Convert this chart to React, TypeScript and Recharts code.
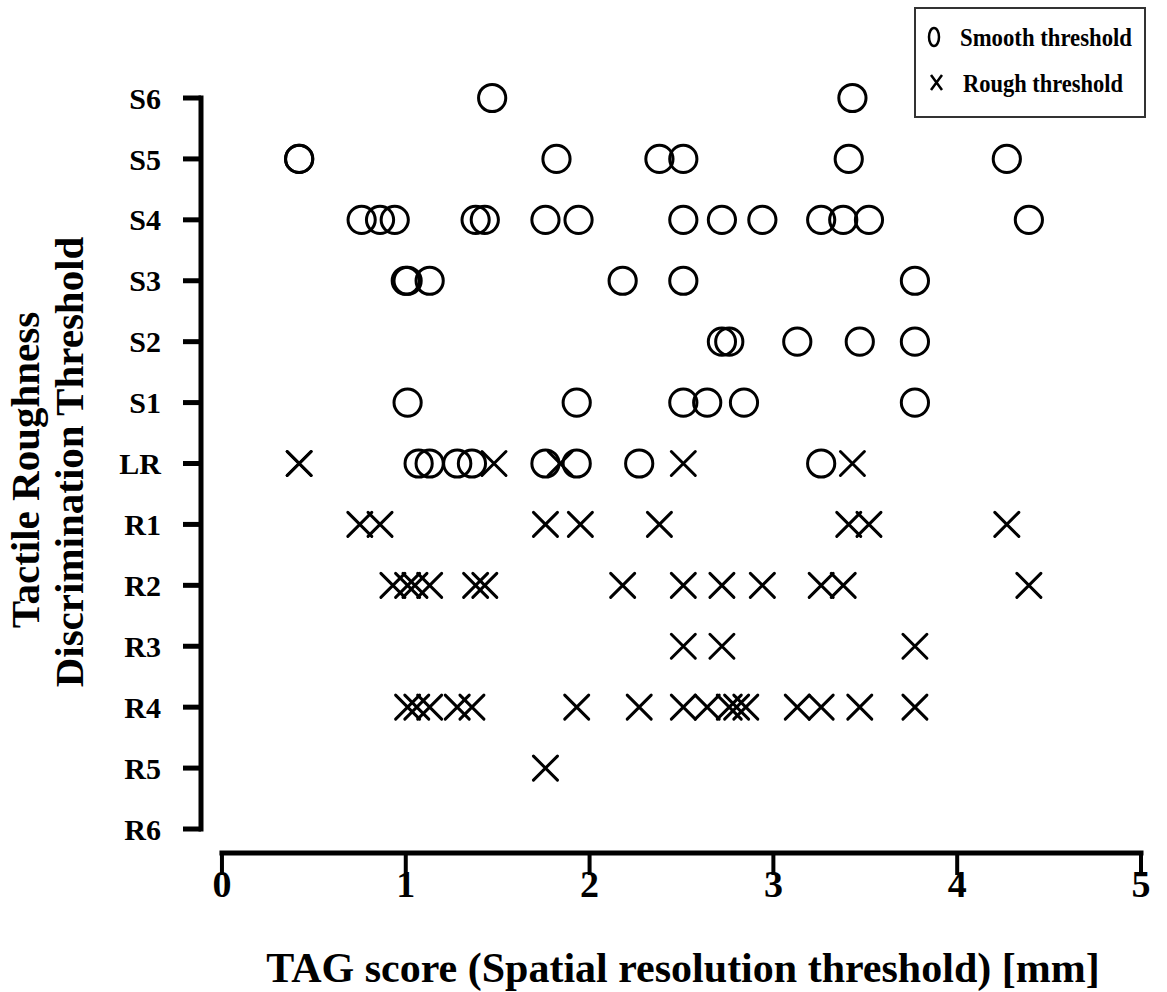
import React from 'react';
import { ScatterChart, Scatter, XAxis, YAxis, ReferenceLine, Legend } from 'recharts';

const FONT = '"Liberation Serif", "Times New Roman", serif';

// Roughness discrimination levels (numeric position -> label)
const levelValues = [-6, -5, -4, -3, -2, -1, 0, 1, 2, 3, 4, 5, 6];
const levelLabels = ['R6', 'R5', 'R4', 'R3', 'R2', 'R1', 'LR', 'S1', 'S2', 'S3', 'S4', 'S5', 'S6'];
const xTicks = [0, 1, 2, 3, 4, 5];

// Smooth threshold (circles): TAG scores [mm] per level
const smoothS6 = [1.47, 3.43];
const smoothS5 = [0.42, 0.42, 1.82, 2.38, 2.51, 3.41, 4.27];
const smoothS4 = [0.76, 0.86, 0.94, 1.38, 1.43, 1.76, 1.94, 2.51, 2.72, 2.94, 3.26, 3.38, 3.52, 4.39];
const smoothS3 = [1.0, 1.01, 1.13, 2.18, 2.51, 3.77];
const smoothS2 = [2.72, 2.76, 3.13, 3.47, 3.77];
const smoothS1 = [1.01, 1.93, 2.51, 2.64, 2.84, 3.77];
const smoothLR = [1.07, 1.13, 1.28, 1.36, 1.76, 1.93, 2.27, 3.26];

// Rough threshold (crosses): TAG scores [mm] per level
const roughLR = [0.42, 0.42, 1.48, 1.84, 2.51, 3.43];
const roughR1 = [0.75, 0.86, 1.76, 1.95, 2.38, 3.41, 3.52, 4.27];
const roughR2 = [0.93, 1.01, 1.05, 1.13, 1.38, 1.43, 2.18, 2.51, 2.72, 2.94, 3.26, 3.38, 4.39];
const roughR3 = [2.51, 2.72, 3.77];
const roughR4 = [1.01, 1.06, 1.13, 1.28, 1.36, 1.93, 2.27, 2.51, 2.64, 2.76, 2.8, 2.85, 3.13, 3.26, 3.47, 3.77];
const roughR5 = [1.76];

const toPoints = (xs: number[], level: number) => xs.map((x) => ({ x, y: level }));

const smoothData = [
  ...toPoints(smoothS6, 6),
  ...toPoints(smoothS5, 5),
  ...toPoints(smoothS4, 4),
  ...toPoints(smoothS3, 3),
  ...toPoints(smoothS2, 2),
  ...toPoints(smoothS1, 1),
  ...toPoints(smoothLR, 0),
];

const roughData = [
  ...toPoints(roughLR, 0),
  ...toPoints(roughR1, -1),
  ...toPoints(roughR2, -2),
  ...toPoints(roughR3, -3),
  ...toPoints(roughR4, -4),
  ...toPoints(roughR5, -5),
];

const X_MIN = -0.114;
const Y_MIN = -6.394;

const CircleShape = (props: any) => {
  const { cx, cy } = props;
  if (cx == null || cy == null) return null;
  return <circle cx={cx} cy={cy} r={13.6} fill="none" stroke="#000" strokeWidth={3} />;
};

const CrossShape = (props: any) => {
  const { cx, cy } = props;
  if (cx == null || cy == null) return null;
  const h = 12;
  return (
    <path
      d={`M${cx - h},${cy - h}L${cx + h},${cy + h}M${cx - h},${cy + h}L${cx + h},${cy - h}`}
      stroke="#000"
      strokeWidth={3}
      strokeLinecap="round"
      fill="none"
    />
  );
};

const XTitle = () => (
  <text
    x={683}
    y={982}
    textAnchor="middle"
    fontSize={42}
    fontWeight="bold"
    fontFamily={FONT}
    fill="#000"
  >
    TAG score (Spatial resolution threshold) [mm]
  </text>
);

const YTitle = () => (
  <g fontSize={41} fontWeight="bold" fontFamily={FONT} fill="#000">
    <text x={39} y={470} textAnchor="middle" transform="rotate(-90 39 470)">
      Tactile Roughness
    </text>
    <text x={83} y={462} textAnchor="middle" transform="rotate(-90 83 462)">
      Discrimination Threshold
    </text>
  </g>
);

const LegendBox = () => (
  <div
    style={{
      position: 'relative',
      boxSizing: 'border-box',
      width: 232,
      height: 111,
      border: '2px solid #333',
      background: '#fff',
    }}
  >
    <svg width={280} height={107} style={{ display: 'block', overflow: 'visible' }}>
      <ellipse cx={18} cy={28} rx={5} ry={9} fill="none" stroke="#000" strokeWidth={2.5} />
      <path d="M15,66L26,81M15,81L26,66" stroke="#000" strokeWidth={2.5} fill="none" />
      <text
        x={44}
        y={37}
        fontSize={26}
        fontWeight="bold"
        fontFamily={FONT}
        fill="#000"
        textLength={172}
        lengthAdjust="spacingAndGlyphs"
      >
        Smooth threshold
      </text>
      <text
        x={47}
        y={83}
        fontSize={26}
        fontWeight="bold"
        fontFamily={FONT}
        fill="#000"
        textLength={160}
        lengthAdjust="spacingAndGlyphs"
      >
        Rough threshold
      </text>
    </svg>
  </div>
);

export default function App() {
  return (
    <div style={{ position: 'absolute', left: 0, top: 0, width: 1167, height: 992 }}>
      <ScatterChart
        width={1167}
        height={992}
        margin={{ top: 98, right: 26, left: 0, bottom: 9 }}
        style={{ fontFamily: FONT }}
      >
        <XAxis
          type="number"
          dataKey="x"
          domain={[X_MIN, 5]}
          ticks={xTicks}
          axisLine={false}
          tickLine={{ stroke: '#000', strokeWidth: 4 }}
          tickSize={22}
          tickMargin={-5}
          height={130}
          tick={{ fill: '#000', fontSize: 38, fontWeight: 'bold', fontFamily: FONT }}
          label={{ content: XTitle }}
        />
        <YAxis
          type="number"
          dataKey="y"
          domain={[Y_MIN, 6]}
          ticks={levelValues}
          tickFormatter={(v: number) => levelLabels[levelValues.indexOf(v)] ?? ''}
          axisLine={false}
          tickLine={{ stroke: '#000', strokeWidth: 5 }}
          tickSize={18}
          tickMargin={22}
          width={201}
          tick={{ fill: '#000', fontSize: 30, fontWeight: 'bold', fontFamily: FONT }}
          label={{ content: YTitle }}
        />
        <ReferenceLine
          segment={[{ x: X_MIN, y: -6 }, { x: X_MIN, y: 6 }]}
          stroke="#000"
          strokeWidth={5}
          strokeLinecap="square"
          ifOverflow="visible"
        />
        <ReferenceLine
          segment={[{ x: 0, y: Y_MIN }, { x: 5, y: Y_MIN }]}
          stroke="#000"
          strokeWidth={5}
          strokeLinecap="square"
          ifOverflow="visible"
        />
        <Scatter name="Smooth threshold" data={smoothData} shape={CircleShape} isAnimationActive={false} />
        <Scatter name="Rough threshold" data={roughData} shape={CrossShape} isAnimationActive={false} />
        <Legend
          layout="horizontal"
          verticalAlign="middle"
          align="center"
          wrapperStyle={{ left: 914, top: 7, width: 232, height: 111, margin: 0, padding: 0 }}
          content={LegendBox}
        />
      </ScatterChart>
    </div>
  );
}
